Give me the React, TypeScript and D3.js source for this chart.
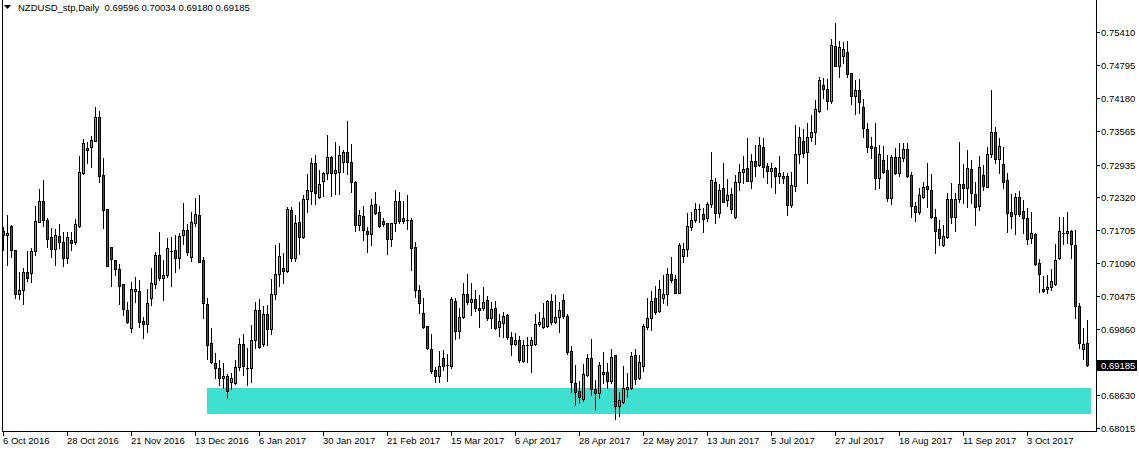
import React, { useEffect } from 'react';
import * as d3 from 'd3';

const opens = [
  0.71694, 0.71619, 0.71787, 0.71339, 0.70524, 0.70586, 0.70929, 0.70904, 0.71314, 0.71868,
  0.72254, 0.719, 0.71582, 0.71352, 0.716, 0.71489, 0.71184, 0.71532, 0.71495, 0.71794,
  0.72783, 0.73244, 0.73256, 0.7338, 0.73816, 0.72739, 0.72105, 0.71389, 0.71153, 0.70985,
  0.70705, 0.70219, 0.69877, 0.70574, 0.70574, 0.70014, 0.69952, 0.70437, 0.70698, 0.71246,
  0.70811, 0.70873, 0.71309, 0.7134, 0.71184, 0.7162, 0.71707, 0.71215, 0.71837, 0.71993,
  0.71153, 0.70331, 0.69597, 0.69236, 0.6913, 0.68944, 0.68987, 0.68869, 0.6885, 0.69162,
  0.69578, 0.6914, 0.69137, 0.69653, 0.70213, 0.69578, 0.70138, 0.69858, 0.70512, 0.70885,
  0.70997, 0.70954, 0.72086, 0.71196, 0.71856, 0.71576, 0.72285, 0.72447, 0.72957, 0.72335,
  0.72634, 0.72771, 0.7307, 0.72771, 0.7279, 0.72988, 0.73163, 0.72976, 0.72609, 0.71812,
  0.71968, 0.71688, 0.71632, 0.72192, 0.72043, 0.71875, 0.71837, 0.71539, 0.71837, 0.72254,
  0.71931, 0.719, 0.71899, 0.71401, 0.70592, 0.70157, 0.6992, 0.69485, 0.69093, 0.68981,
  0.69317, 0.69192, 0.69167, 0.70387, 0.69833, 0.70094, 0.70511, 0.70374, 0.70424, 0.70262,
  0.7025, 0.70412, 0.70063, 0.7025, 0.69895, 0.6997, 0.70126, 0.69709, 0.6959, 0.69659,
  0.69267, 0.69565, 0.69565, 0.69584, 0.69951, 0.69895, 0.69927, 0.70387, 0.70002, 0.70082,
  0.70406, 0.70114, 0.69454, 0.6885, 0.68707, 0.68552, 0.69006, 0.69317, 0.68745, 0.68664,
  0.69018, 0.69062, 0.689, 0.69379, 0.68433, 0.68508, 0.68751, 0.68763, 0.69379, 0.68944,
  0.6918, 0.69908, 0.70064, 0.70437, 0.70207, 0.7045, 0.70512, 0.70891, 0.70798, 0.70543,
  0.71234, 0.71352, 0.71763, 0.71894, 0.72099, 0.72006, 0.71931, 0.72199, 0.72603, 0.72024,
  0.72491, 0.72273, 0.72379, 0.7195, 0.72603, 0.7279, 0.72865, 0.72634, 0.73001, 0.72927,
  0.73257, 0.72908, 0.72821, 0.72871, 0.72728, 0.72678, 0.72721, 0.72186, 0.72541, 0.73126,
  0.73375, 0.73163, 0.73456, 0.73537, 0.73941, 0.7442, 0.74345, 0.74128, 0.75148, 0.74781,
  0.74968, 0.7503, 0.74638, 0.74221, 0.74327, 0.74003, 0.73593, 0.73275, 0.73257, 0.7269,
  0.7302, 0.72833, 0.72304, 0.7307, 0.72771, 0.73064, 0.73219, 0.72734, 0.72155, 0.72043,
  0.72335, 0.72535, 0.7246, 0.7195, 0.71726, 0.71433, 0.71589, 0.72286, 0.71962, 0.72286,
  0.72572, 0.72491, 0.72852, 0.72385, 0.72167, 0.7274, 0.72522, 0.73126, 0.73536, 0.73032,
  0.72939, 0.72646, 0.72049, 0.72005, 0.72323, 0.72068, 0.71931, 0.71557, 0.71638, 0.71091,
  0.70612, 0.70605, 0.70643, 0.70699, 0.71184, 0.7165, 0.71651, 0.71694, 0.71427, 0.70294,
  0.69485, 0.69596,
];

const highs = [
  0.71775, 0.71993, 0.71806, 0.71345, 0.70935, 0.7101, 0.7132, 0.7137, 0.72161, 0.72478,
  0.72646, 0.71943, 0.71744, 0.71725, 0.71818, 0.71669, 0.71669, 0.71682, 0.71918, 0.731,
  0.73412, 0.73362, 0.73468, 0.74003, 0.73941, 0.7305, 0.7211, 0.71395, 0.7116, 0.71078,
  0.7071, 0.70375, 0.70748, 0.70841, 0.7078, 0.70095, 0.70611, 0.70997, 0.71309, 0.7167,
  0.71153, 0.71557, 0.71588, 0.7162, 0.71651, 0.72211, 0.71819, 0.72043, 0.72304, 0.72366,
  0.71215, 0.70437, 0.69877, 0.6941, 0.69286, 0.69224, 0.69031, 0.69037, 0.69286, 0.6969,
  0.69765, 0.69504, 0.6994, 0.70363, 0.70425, 0.703, 0.70313, 0.70798, 0.71433, 0.71476,
  0.7129, 0.72148, 0.72136, 0.71987, 0.72242, 0.72366, 0.72758, 0.73051, 0.73113, 0.72833,
  0.72802, 0.73486, 0.73094, 0.73349, 0.73287, 0.73206, 0.73748, 0.73318, 0.72628, 0.72086,
  0.72161, 0.71775, 0.72298, 0.72422, 0.72167, 0.71931, 0.7185, 0.7185, 0.7246, 0.72428,
  0.72254, 0.72366, 0.7193, 0.71495, 0.70686, 0.70437, 0.69925, 0.69765, 0.69161, 0.69453,
  0.69472, 0.69391, 0.70455, 0.70437, 0.7025, 0.70717, 0.70885, 0.70717, 0.70592, 0.70499,
  0.70655, 0.70486, 0.70374, 0.70393, 0.70144, 0.70175, 0.70138, 0.69814, 0.69783, 0.6974,
  0.69659, 0.69721, 0.69721, 0.70138, 0.70175, 0.70343, 0.70406, 0.70518, 0.70499, 0.70362,
  0.70518, 0.70145, 0.69547, 0.69193, 0.68894, 0.69211, 0.69398, 0.69678, 0.68913, 0.69255,
  0.69441, 0.69236, 0.69491, 0.69385, 0.68682, 0.6918, 0.6905, 0.69435, 0.69491, 0.69379,
  0.69958, 0.7045, 0.70574, 0.70667, 0.70779, 0.70873, 0.70997, 0.71203, 0.70873, 0.71464,
  0.71464, 0.72024, 0.72043, 0.72211, 0.72192, 0.7213, 0.72242, 0.73176, 0.7269, 0.72572,
  0.7297, 0.72665, 0.72491, 0.7274, 0.72945, 0.73095, 0.73425, 0.73132, 0.733, 0.73456,
  0.73425, 0.7297, 0.7297, 0.72896, 0.73095, 0.72802, 0.72771, 0.72802, 0.73674, 0.73642,
  0.73599, 0.73717, 0.7386, 0.7414, 0.74576, 0.74545, 0.74526, 0.75279, 0.75571, 0.75242,
  0.75229, 0.75242, 0.74645, 0.74514, 0.74532, 0.74153, 0.73705, 0.73456, 0.73705, 0.733,
  0.73281, 0.73113, 0.73113, 0.73238, 0.73331, 0.73344, 0.73331, 0.72802, 0.72242, 0.72503,
  0.72616, 0.72958, 0.72752, 0.72105, 0.719, 0.71807, 0.72398, 0.72584, 0.72398, 0.7335,
  0.72939, 0.73207, 0.7302, 0.72615, 0.73095, 0.72927, 0.73269, 0.74327, 0.73642, 0.73424,
  0.73269, 0.72771, 0.72385, 0.72398, 0.72441, 0.72273, 0.72117, 0.72055, 0.71651, 0.71172,
  0.70854, 0.70873, 0.70979, 0.71452, 0.71949, 0.71949, 0.72055, 0.71713, 0.71713, 0.70344,
  0.69877, 0.70034,
];

const lows = [
  0.71339, 0.71059, 0.71202, 0.70449, 0.70418, 0.70325, 0.70767, 0.70748, 0.71252, 0.7186,
  0.71794, 0.71402, 0.71215, 0.71066, 0.7137, 0.71047, 0.71103, 0.71339, 0.71458, 0.71775,
  0.72758, 0.7297, 0.72895, 0.73375, 0.72615, 0.71744, 0.7104, 0.70673, 0.70873, 0.70325,
  0.70126, 0.69983, 0.69815, 0.70375, 0.69908, 0.6969, 0.69815, 0.70313, 0.70636, 0.7078,
  0.70406, 0.70842, 0.70674, 0.70923, 0.70997, 0.71445, 0.71246, 0.71134, 0.71794, 0.7111,
  0.70076, 0.69298, 0.69236, 0.68944, 0.68819, 0.68757, 0.68583, 0.68745, 0.68832, 0.691,
  0.69006, 0.68819, 0.68881, 0.69516, 0.6951, 0.69553, 0.69566, 0.69765, 0.70425, 0.70673,
  0.70729, 0.70935, 0.71134, 0.7114, 0.71265, 0.71557, 0.72055, 0.72198, 0.72198, 0.72304,
  0.72348, 0.72671, 0.72354, 0.72385, 0.72385, 0.7279, 0.72758, 0.72428, 0.717, 0.71713,
  0.71526, 0.71308, 0.71433, 0.72011, 0.71775, 0.71787, 0.71265, 0.71414, 0.717, 0.7185,
  0.7185, 0.71731, 0.70966, 0.70468, 0.70157, 0.6989, 0.69485, 0.69037, 0.68881, 0.68881,
  0.69099, 0.68893, 0.69142, 0.69677, 0.69702, 0.70063, 0.70325, 0.70126, 0.702, 0.69908,
  0.70219, 0.70032, 0.6989, 0.69864, 0.69733, 0.69721, 0.69677, 0.69379, 0.69565, 0.69254,
  0.69242, 0.69254, 0.69068, 0.69565, 0.69926, 0.69877, 0.69908, 0.69952, 0.6997, 0.69815,
  0.70076, 0.69392, 0.68695, 0.68446, 0.68489, 0.68527, 0.68987, 0.68633, 0.68352, 0.68583,
  0.6885, 0.68757, 0.68863, 0.68178, 0.6824, 0.68489, 0.68589, 0.68745, 0.68838, 0.68925,
  0.69087, 0.69858, 0.69846, 0.70145, 0.70188, 0.70344, 0.70313, 0.70736, 0.70537, 0.7053,
  0.7111, 0.71234, 0.71713, 0.71856, 0.71869, 0.71682, 0.71888, 0.72149, 0.71838, 0.71962,
  0.72236, 0.72168, 0.72037, 0.71944, 0.7246, 0.72597, 0.72628, 0.72504, 0.72721, 0.72908,
  0.72709, 0.72597, 0.72522, 0.7241, 0.72584, 0.72597, 0.71993, 0.72136, 0.72448, 0.7297,
  0.73082, 0.72597, 0.73381, 0.73313, 0.73922, 0.74171, 0.73972, 0.74078, 0.74775, 0.74576,
  0.74825, 0.74576, 0.74065, 0.73879, 0.73904, 0.73456, 0.73163, 0.73051, 0.72479, 0.72503,
  0.72771, 0.72261, 0.72205, 0.72759, 0.72728, 0.73001, 0.72709, 0.7195, 0.71887, 0.72012,
  0.72304, 0.72149, 0.71943, 0.7129, 0.71433, 0.71421, 0.71558, 0.71837, 0.717, 0.72242,
  0.72211, 0.72149, 0.72211, 0.71806, 0.72086, 0.7246, 0.72516, 0.73082, 0.7297, 0.72783,
  0.72491, 0.71669, 0.71757, 0.71638, 0.71981, 0.71663, 0.71452, 0.71464, 0.7106, 0.70562,
  0.70562, 0.70543, 0.70593, 0.70686, 0.71178, 0.71452, 0.71464, 0.71184, 0.70076, 0.69504,
  0.69298, 0.6918,
];

const closes = [
  0.71619, 0.71657, 0.71333, 0.70524, 0.70586, 0.70929, 0.70823, 0.7132, 0.71881, 0.72254,
  0.71906, 0.71551, 0.71352, 0.71613, 0.71495, 0.71184, 0.71576, 0.71476, 0.71825, 0.72789,
  0.7333, 0.732, 0.73393, 0.73816, 0.72727, 0.72092, 0.71047, 0.71165, 0.70978, 0.70673,
  0.70232, 0.70001, 0.70611, 0.70611, 0.70002, 0.69952, 0.70344, 0.70717, 0.71246, 0.70811,
  0.70873, 0.71371, 0.71327, 0.71184, 0.71607, 0.71707, 0.71309, 0.71856, 0.72005, 0.71122,
  0.70344, 0.6956, 0.69255, 0.6913, 0.68944, 0.68987, 0.68713, 0.68944, 0.69162, 0.69578,
  0.6918, 0.6913, 0.69653, 0.70213, 0.69522, 0.70138, 0.69858, 0.70518, 0.70885, 0.71227,
  0.70954, 0.72098, 0.71196, 0.71837, 0.71588, 0.72285, 0.7246, 0.72957, 0.7241, 0.72565,
  0.72771, 0.7307, 0.72771, 0.72827, 0.73107, 0.73163, 0.72976, 0.72603, 0.71812, 0.71987,
  0.71719, 0.71632, 0.72173, 0.72036, 0.71781, 0.71831, 0.71551, 0.71837, 0.72254, 0.71887,
  0.71875, 0.71893, 0.7137, 0.70592, 0.70356, 0.69908, 0.69503, 0.69086, 0.68981, 0.69173,
  0.6918, 0.69167, 0.70424, 0.69833, 0.70082, 0.70511, 0.70374, 0.70424, 0.7025, 0.70213,
  0.70374, 0.70063, 0.70231, 0.69877, 0.70014, 0.70107, 0.69709, 0.6959, 0.69659, 0.6928,
  0.69565, 0.6956, 0.69659, 0.69957, 0.70001, 0.70076, 0.70387, 0.70002, 0.70082, 0.70219,
  0.70114, 0.69441, 0.68869, 0.68695, 0.68601, 0.69018, 0.69317, 0.68738, 0.68664, 0.69193,
  0.69062, 0.689, 0.69336, 0.68433, 0.68539, 0.68757, 0.68776, 0.69361, 0.68925, 0.69242,
  0.6992, 0.70064, 0.70387, 0.70188, 0.70611, 0.70512, 0.70891, 0.70779, 0.70543, 0.71433,
  0.71352, 0.71788, 0.719, 0.72099, 0.72093, 0.71912, 0.72199, 0.72647, 0.72024, 0.7246,
  0.72242, 0.72367, 0.72099, 0.72603, 0.72796, 0.72852, 0.72634, 0.73001, 0.72914, 0.733,
  0.72896, 0.72821, 0.72877, 0.72728, 0.72771, 0.72721, 0.72186, 0.72553, 0.73132, 0.73443,
  0.73145, 0.73443, 0.73549, 0.73966, 0.74514, 0.74339, 0.74128, 0.75167, 0.74781, 0.75123,
  0.75092, 0.74626, 0.74221, 0.74327, 0.7411, 0.73611, 0.73257, 0.7325, 0.7269, 0.73126,
  0.72802, 0.72317, 0.7307, 0.72771, 0.73082, 0.73219, 0.72728, 0.72167, 0.72043, 0.7236,
  0.72522, 0.72472, 0.71962, 0.71701, 0.71558, 0.71601, 0.72286, 0.71949, 0.72286, 0.72572,
  0.72491, 0.72864, 0.72398, 0.72149, 0.72883, 0.72541, 0.73132, 0.73536, 0.73032, 0.73281,
  0.72615, 0.72024, 0.71974, 0.72323, 0.72012, 0.71931, 0.71539, 0.71651, 0.71072, 0.70885,
  0.70581, 0.70649, 0.70767, 0.71153, 0.717, 0.7166, 0.71694, 0.71445, 0.70294, 0.6961,
  0.69579, 0.69185,
];

const dateLabels = [
  '6 Oct 2016', '28 Oct 2016', '21 Nov 2016', '13 Dec 2016', '6 Jan 2017', '30 Jan 2017',
  '21 Feb 2017', '15 Mar 2017', '6 Apr 2017', '28 Apr 2017', '22 May 2017', '13 Jun 2017',
  '5 Jul 2017', '27 Jul 2017', '18 Aug 2017', '11 Sep 2017', '3 Oct 2017',
];
const barsPerDateLabel = 16;

const priceTicks = [
  0.7541, 0.74795, 0.7418, 0.73565, 0.72935, 0.7232, 0.71705, 0.7109, 0.70475, 0.6986,
  0.6863, 0.68015,
];

const headerText = 'NZDUSD_stp,Daily  0.69596 0.70034 0.69180 0.69185';
const lastPrice = 0.69185;

// support zone (price range, bar range)
const zoneHigh = 0.68763;
const zoneLow = 0.68278;
const zoneFromBar = 51;
const zoneToBar = 272;

const W = 1139;
const H = 452;
const FONT = '"Liberation Sans", Arial, sans-serif';
const BULL = '#00FF00';
const BEAR = '#FF0000';

export default function App() {
  useEffect(() => {
    document.body.style.margin = '0';
  }, []);

  const n = opens.length;
  const x = d3.scaleLinear().domain([0, n - 1]).range([3, 3 + 4 * (n - 1)]);
  const y = d3.scaleLinear().domain([0.68015, 0.7541]).range([428, 32]);

  const axisX = 1096;
  const axisY = 431;

  const fmt = d3.format('.5f');

  const candles = d3.range(n).map((i) => {
    const c = Math.round(x(i));
    const o = opens[i];
    const cl = closes[i];
    const hi = Math.round(y(highs[i]));
    const lo = Math.round(y(lows[i]));
    const top = Math.round(y(Math.max(o, cl)));
    const bot = Math.round(y(Math.min(o, cl)));
    const bull = cl >= o;
    return (
      <g key={i}>
        <line x1={c + 0.5} x2={c + 0.5} y1={hi} y2={lo + 1} stroke="#000" strokeWidth={1} />
        {bot - top <= 1 ? (
          <line x1={c - 1} x2={c + 2} y1={top + 0.5} y2={top + 0.5} stroke="#000" strokeWidth={1} />
        ) : (
          <rect
            x={c - 0.5}
            y={top + 0.5}
            width={2}
            height={bot - top}
            fill={bull ? BULL : BEAR}
            stroke="#000"
            strokeWidth={1}
          />
        )}
      </g>
    );
  });

  const zx0 = Math.round(x(zoneFromBar));
  const zx1 = Math.round(x(zoneToBar));
  const zy0 = Math.round(y(zoneHigh));
  const zy1 = Math.round(y(zoneLow));

  const lastY = y(lastPrice);

  return (
    <svg
      width={W}
      height={H}
      style={{ position: 'absolute', left: 0, top: 0, background: '#fff' }}
      fontFamily={FONT}
    >
      <rect x={0} y={0} width={W} height={H} fill="#fff" />
      {/* support zone */}
      <rect x={zx0} y={zy0} width={zx1 - zx0} height={zy1 - zy0} fill="#40E0D0" />

      {/* candles */}
      <g>{candles}</g>

      {/* frame */}
      <line x1={2.5} x2={2.5} y1={0} y2={axisY + 1} stroke="#000" />
      <line x1={2} x2={axisX + 1} y1={axisY + 0.5} y2={axisY + 0.5} stroke="#000" />
      <line x1={axisX + 0.5} x2={axisX + 0.5} y1={0} y2={axisY + 1} stroke="#000" />

      {/* price axis */}
      {priceTicks.map((p) => {
        const ty = Math.round(y(p));
        return (
          <g key={p}>
            <line x1={axisX + 1} x2={axisX + 4} y1={ty + 0.5} y2={ty + 0.5} stroke="#000" />
            <text x={1101} y={ty + 4} fontSize={9.5} fill="#000">
              {fmt(p)}
            </text>
          </g>
        );
      })}
      <rect x={1097} y={Math.round(lastY) - 5} width={40} height={11} fill="#000" />
      <text x={1101} y={Math.round(lastY) + 4} fontSize={9.5} fill="#fff">
        {fmt(lastPrice)}
      </text>

      {/* date axis */}
      {dateLabels.map((d, k) => {
        const c = Math.round(x(k * barsPerDateLabel));
        return (
          <g key={d}>
            <line x1={c + 0.5} x2={c + 0.5} y1={axisY + 1} y2={axisY + 5} stroke="#000" />
            <text x={c} y={444} fontSize={9.5} fill="#000">
              {d}
            </text>
          </g>
        );
      })}

      {/* header */}
      <path d="M4,5 L11,5 L7.5,9 Z" fill="#000" />
      <text x={18} y={11} fontSize={9.5} fill="#000" style={{ whiteSpace: 'pre' }}>
        {headerText}
      </text>
    </svg>
  );
}
